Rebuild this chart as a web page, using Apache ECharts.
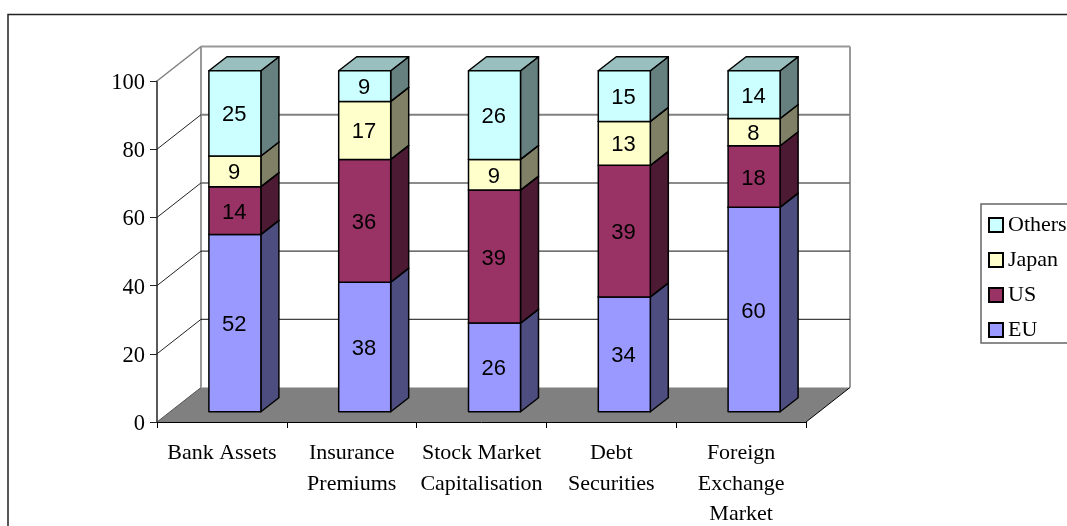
<!DOCTYPE html>
<html>
<head>
<meta charset="utf-8">
<style>
  html, body { margin: 0; padding: 0; background: #fff; }
  #chart { width: 1067px; height: 526px; }
</style>
<script src="https://cdn.jsdelivr.net/npm/echarts@6/dist/echarts.min.js"></script>
</head>
<body>
<div id="chart"></div>
<script>
var categories = ['Bank Assets', 'Insurance\nPremiums', 'Stock Market\nCapitalisation', 'Debt\nSecurities', 'Foreign\nExchange\nMarket'];
var eu = [52, 38, 26, 34, 60];
var us = [14, 36, 39, 39, 18];
var japan = [9, 17, 9, 13, 8];
var others = [25, 9, 26, 15, 14];
var yTicks = [0, 20, 40, 60, 80, 100];

var serif = '"Liberation Serif", "Times New Roman", serif';
var sans = '"Liberation Sans", Arial, sans-serif';

// 3d look: depth of the whole plot and of a single bar, in px
var wallDx = 44, wallDy = -34.5;
var barDx = 18, barDy = -14;
var barW = 52;
var planeDx = (wallDx - barDx) / 2, planeDy = (wallDy - barDy) / 2;

var stacks = [
  { name: 'EU', values: eu, color: '#9999FF', side: '#4D4D80', top: '#7373BF' },
  { name: 'US', values: us, color: '#993366', side: '#4D1A33', top: '#73264D' },
  { name: 'Japan', values: japan, color: '#FFFFCC', side: '#808066', top: '#BFBF99' },
  { name: 'Others', values: others, color: '#CCFFFF', side: '#668080', top: '#99BFBF' }
];

// the chart is a 100% stack, rounded labels may not add up to exactly 100
var totals = categories.map(function (c, i) {
  return eu[i] + us[i] + japan[i] + others[i];
});
var running = categories.map(function () { return 0; });

function poly(points, fill, stroke, width) {
  return {
    type: 'polygon',
    shape: { points: points },
    style: { fill: fill, stroke: stroke, lineWidth: width, lineJoin: 'round' }
  };
}

function renderBar(stack) {
  return function (params, api) {
    var p0 = api.coord([api.value(0), api.value(1)]);
    var p1 = api.coord([api.value(0), api.value(2)]);
    var x0 = p0[0] + planeDx - barW / 2, x1 = x0 + barW;
    var y0 = p0[1] + planeDy, y1 = p1[1] + planeDy;
    return {
      type: 'group',
      children: [
        poly([[x1, y0], [x1 + barDx, y0 + barDy], [x1 + barDx, y1 + barDy], [x1, y1]], stack.side, '#000', 1.5),
        poly([[x0, y1], [x1, y1], [x1 + barDx, y1 + barDy], [x0 + barDx, y1 + barDy]], stack.top, '#000', 1.5),
        poly([[x0, y0], [x1, y0], [x1, y1], [x0, y1]], stack.color, '#000', 1.5),
        {
          type: 'text',
          style: {
            x: (x0 + x1) / 2 - 0.7, y: (y0 + y1) / 2 + 2,
            text: String(api.value(3)),
            font: '22px ' + sans,
            fill: '#000', align: 'center', verticalAlign: 'middle'
          }
        }
      ]
    };
  };
}

function renderFloor(params, api) {
  var c = params.coordSys;
  var y = api.coord([0, 0])[1];
  var l = c.x, r = c.x + c.width;
  return {
    type: 'group',
    children: [
      poly([[l, y], [r, y], [r + wallDx, y + wallDy], [l + wallDx, y + wallDy]], '#808080', null, 0),
      { type: 'line', shape: { x1: r, y1: y, x2: r + wallDx, y2: y + wallDy }, style: { stroke: '#000', lineWidth: 1 } },
      { type: 'line', shape: { x1: l, y1: y, x2: l + wallDx, y2: y + wallDy }, style: { stroke: '#555', lineWidth: 1 } }
    ]
  };
}

// the reference's back wall lines fade from grey and thick at the top to thin black at the bottom
function backLineStyle(v) {
  if (v === 100) return { stroke: '#999', lineWidth: 2 };
  if (v === 80) return { stroke: '#808080', lineWidth: 2 };
  if (v === 60) return { stroke: '#666', lineWidth: 1.5 };
  return { stroke: '#111', lineWidth: 1 };
}

function renderGrid(params, api) {
  var c = params.coordSys;
  var v = api.value(0);
  var y = api.coord([0, v])[1];
  var l = c.x, r = c.x + c.width;
  return {
    type: 'group',
    children: [
      { type: 'line', shape: { x1: l, y1: y, x2: l + wallDx, y2: y + wallDy }, style: { stroke: v === 100 ? '#808080' : '#222', lineWidth: v === 100 ? 1.5 : 1 } },
      { type: 'line', shape: { x1: l + wallDx, y1: y + wallDy, x2: r + wallDx, y2: y + wallDy }, style: backLineStyle(v) }
    ]
  };
}

function renderWall(params, api) {
  var c = params.coordSys;
  var yTop = api.coord([0, 100])[1] + wallDy, yBot = api.coord([0, 0])[1] + wallDy;
  var xl = c.x + wallDx, xr = c.x + c.width + wallDx;
  return {
    type: 'group',
    children: [
      { type: 'line', shape: { x1: xl, y1: yTop, x2: xl, y2: yBot }, style: { stroke: '#999', lineWidth: 2 } },
      { type: 'line', shape: { x1: xr, y1: yTop, x2: xr, y2: yBot }, style: { stroke: '#999', lineWidth: 2 } }
    ]
  };
}

var series = [
  { type: 'custom', name: 'wall', silent: true, data: [[0]], renderItem: renderWall, clip: false },
  { type: 'custom', name: 'grid', silent: true, data: yTicks.slice(1).map(function (t) { return [t]; }), encode: { y: 0 }, renderItem: renderGrid, clip: false },
  { type: 'custom', name: 'floor', silent: true, data: [[0]], renderItem: renderFloor, clip: false }
];

stacks.forEach(function (stack) {
  var rows = stack.values.map(function (v, i) {
    var start = running[i] / totals[i] * 100;
    running[i] += v;
    return [i, start, running[i] / totals[i] * 100, v];
  });
  series.push({
    type: 'custom',
    name: stack.name,
    data: rows,
    encode: { x: 0, y: [1, 2] },
    renderItem: renderBar(stack),
    itemStyle: { color: stack.color, borderColor: '#000', borderWidth: 1.5 },
    clip: false
  });
});

var chart = echarts.init(document.getElementById('chart'), null, { renderer: 'canvas' });
chart.setOption({
  animation: false,
  backgroundColor: '#fff',
  grid: { left: 157, right: 261, top: 81, bottom: 104, outerBoundsMode: 'none' },
  graphic: [{
    type: 'rect',
    silent: true,
    shape: { x: 8, y: 14.5, width: 1200, height: 800 },
    style: { fill: null, stroke: '#222', lineWidth: 1.5 }
  }],
  legend: {
    data: ['Others', 'Japan', 'US', 'EU'],
    orient: 'vertical',
    left: 981,
    top: 204,
    padding: [10, 9, 2, 7],
    itemWidth: 14,
    itemHeight: 14,
    itemGap: 13,
    icon: 'rect',
    borderColor: '#666',
    borderWidth: 1.5,
    textStyle: { fontFamily: serif, fontSize: 22, color: '#000' }
  },
  xAxis: {
    type: 'category',
    data: categories,
    axisLine: { lineStyle: { color: '#000', width: 1 } },
    axisTick: { show: true, length: 6, alignWithLabel: false, lineStyle: { color: '#000' } },
    axisLabel: { interval: 0, margin: 16, fontFamily: serif, fontSize: 22, lineHeight: 30.5, color: '#000' }
  },
  yAxis: {
    type: 'value',
    min: 0,
    max: 100,
    interval: 20,
    axisLine: { show: true, lineStyle: { color: '#222', width: 1.5 } },
    axisTick: { show: true, length: 7, lineStyle: { color: '#222' } },
    axisLabel: {
      margin: 12,
      formatter: '{v|{value}}',
      rich: { v: { fontFamily: serif, fontSize: 22.5, color: '#000', padding: [4, 0, 0, 0] } }
    },
    splitLine: { show: false }
  },
  series: series
});
</script>
</body>
</html>
